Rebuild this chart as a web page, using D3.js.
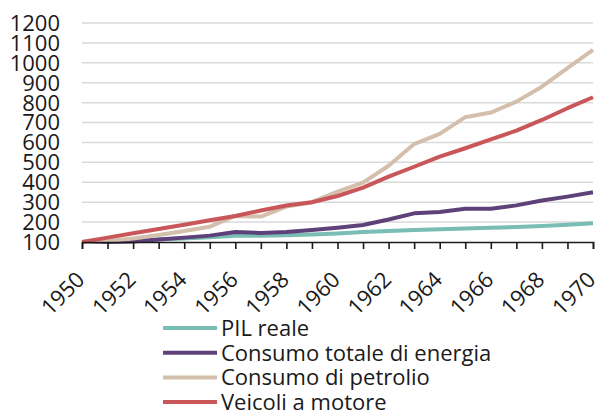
<!DOCTYPE html>
<html>
<head>
<meta charset="utf-8">
<script src="https://cdn.jsdelivr.net/npm/d3@7"></script>
<style>
  body { margin: 0; background: #fff; }
  #svg text { font-family: "Open Sans", "Noto Sans", sans-serif; fill: #1a1a1a; }
</style>
</head>
<body>
<div id="svg"></div>
<script>
const years = d3.range(1950, 1971)
const yTicks = [100, 200, 300, 400, 500, 600, 700, 800, 900, 1000, 1100, 1200]
const xTickLabels = [1950, 1952, 1954, 1956, 1958, 1960, 1962, 1964, 1966, 1968, 1970]

const seriesNames = ["PIL reale", "Consumo totale di energia", "Consumo di petrolio", "Veicoli a motore"]
const seriesColors = ["#79bdb4", "#5f4179", "#d3bfac", "#c9575a"]

const pil = [100, 104, 108, 113, 118, 124, 131, 132, 134, 138, 143, 150, 155, 160, 164, 168, 171, 175, 180, 187, 194]
const energia = [100, 100, 103, 112, 122, 132, 150, 145, 150, 160, 172, 185, 213, 244, 251, 267, 267, 284, 308, 328, 350]
const petrolio = [100, 105, 118, 135, 155, 177, 231, 228, 278, 300, 353, 398, 483, 592, 643, 727, 750, 805, 880, 973, 1065]
const veicoli = [100, 122, 144, 165, 187, 209, 231, 258, 283, 300, 331, 373, 428, 478, 529, 571, 616, 659, 713, 772, 827]

const allSeries = [pil, energia, petrolio, veicoli]

const svg = d3.select('#svg')
    .append('svg')
    .attr('width', 598)
    .attr('height', 411)

const xScale = d3.scaleLinear().domain([1950, 1970]).range([82, 593])
const yScale = d3.scaleLinear().domain([100, 1200]).range([242, 23])

// grid
svg.append("g")
    .selectAll("line")
    .data(yTicks.filter(d => d > 100))
    .enter()
    .append("line")
    .attr("x1", xScale(1950))
    .attr("x2", xScale(1970))
    .attr("y1", d => yScale(d))
    .attr("y2", d => yScale(d))
    .attr("stroke", "#d9d9d9")
    .attr("stroke-width", 1.5)

// y labels
svg.append("g")
    .selectAll("text")
    .data(yTicks)
    .enter()
    .append("text")
    .attr("x", 60)
    .attr("y", d => yScale(d))
    .attr("dy", "0.36em")
    .attr("text-anchor", "end")
    .attr("font-size", "22px")
    .text(d => d)

// lines
const line = d3.line()
    .x((d, i) => xScale(years[i]))
    .y(d => yScale(d))

svg.append("g")
    .selectAll("path")
    .data(allSeries)
    .enter()
    .append("path")
    .attr("d", d => line(d))
    .attr("fill", "none")
    .attr("stroke", (d, i) => seriesColors[i])
    .attr("stroke-width", 4)
    .attr("stroke-linejoin", "round")

// x axis
const xAxis = svg.append("g")
    .attr("transform", "translate(0," + yScale(100) + ")")
    .call(d3.axisBottom(xScale).tickValues(years).tickSize(7).tickFormat(""))
xAxis.select(".domain").attr("stroke", "#1a1a1a").attr("stroke-width", 1.6)
xAxis.selectAll(".tick line").attr("stroke", "#1a1a1a").attr("stroke-width", 1.6)

svg.append("g")
    .selectAll("text")
    .data(xTickLabels)
    .enter()
    .append("text")
    .attr("text-anchor", "end")
    .attr("font-size", "22px")
    .attr("transform", d => "translate(" + (xScale(d) + 4) + "," + 281 + ") rotate(-45)")
    .text(d => d)

// legend
const legend = svg.append("g")
    .selectAll("g")
    .data(seriesNames)
    .enter()
    .append("g")
    .attr("transform", (d, i) => "translate(163," + (328 + i * 24.7) + ")")

legend.append("line")
    .attr("x1", 0)
    .attr("x2", 54)
    .attr("stroke", (d, i) => seriesColors[i])
    .attr("stroke-width", 4)

legend.append("text")
    .attr("x", 58)
    .attr("dy", "0.36em")
    .attr("font-size", "22px")
    .text(d => d)
</script>
</body>
</html>
